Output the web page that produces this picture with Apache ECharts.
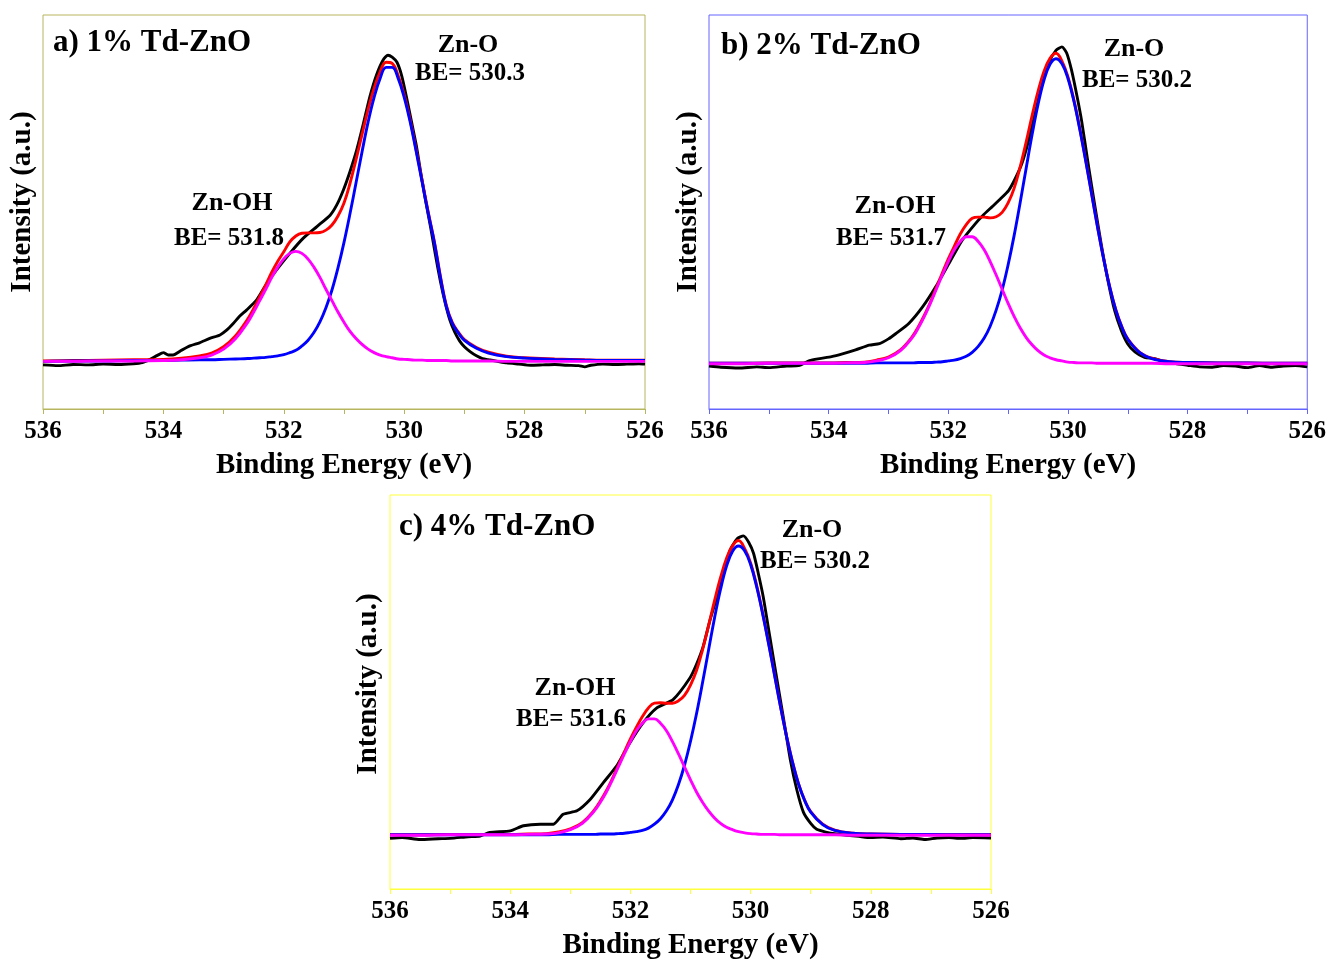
<!DOCTYPE html>
<html>
<head>
<meta charset="utf-8">
<title>O 1s XPS of Td-ZnO</title>
<script src="https://cdn.jsdelivr.net/npm/echarts@6.0.0/dist/echarts.min.js"></script>
<style>
  html, body { margin: 0; padding: 0; background: #fff; }
  #main { width: 1329px; height: 961px; }
</style>
</head>
<body>
<div id="main"></div>
<script>
// energy grid (eV) used by the fitted components
const fitX = [536, 535.5, 535, 534.5, 534, 533.7, 533.4, 533.2, 533.0, 532.8, 532.6, 532.5, 532.4, 532.3, 532.2,
  532.1, 532.0, 531.9, 531.8, 531.7, 531.6, 531.5, 531.4, 531.3, 531.2, 531.1, 531.0, 530.9, 530.8, 530.7,
  530.6, 530.5, 530.4, 530.3, 530.2, 530.1, 530.0, 529.9, 529.8, 529.7, 529.6, 529.5, 529.4, 529.3, 529.2,
  529.1, 529.0, 528.8, 528.6, 528.3, 528.0, 527.5, 527.0, 526.5, 526.0];

// a) 1% Td-ZnO
const blueA = [0.1,0.2,0.2,0.3,0.3,0.4,0.5,0.5,0.6,0.7,0.8,0.9,1.0,1.1,1.3,1.5,1.8,2.3,2.9,4.0,5.4,7.4,10.1,13.7,18.2,
  23.8,30.3,37.6,45.4,53.3,60.8,67.1,71.9,74.7,74.7,71.9,67.1,60.8,53.3,45.4,37.6,30.3,21.5,14.0,9.7,7.3,5.4,3.4,2.2,
  1.3,0.9,0.6,0.4,0.3,0.3];
const pinkA = [0.1,0.1,0.2,0.2,0.3,0.5,1.0,1.7,3.2,5.9,10.0,12.6,15.5,18.4,21.4,24.0,26.1,27.5,28.0,27.5,26.1,24.0,21.4,
  18.4,15.5,12.6,10.0,7.7,5.9,4.4,3.2,2.3,1.7,1.3,1.0,0.7,0.6,0.5,0.4,0.4,0.3,0.3,0.3,0.3,0.2,0.2,0.2,0.2,0.2,0.1,0.1,
  0.1,0.1,0.1,0.1];
const redA = [0.2,0.3,0.4,0.5,0.6,0.9,1.5,2.2,3.8,6.6,10.8,13.5,16.5,19.5,22.7,25.5,27.9,30.4,31.9,32.6,32.7,32.7,32.8,
  33.4,34.7,37.0,40.3,45.3,51.3,57.7,64.0,69.4,73.6,76.0,75.7,72.6,67.7,61.3,53.7,45.8,37.9,30.6,21.8,14.3,9.9,7.5,5.6,
  3.6,2.4,1.4,1.0,0.7,0.5,0.4,0.4];
const rawAX = [536.0,535.75,535.5,535.25,535.0,534.75,534.5,534.35,534.22,534.1,534.0,533.92,533.84,533.7,533.56,533.4,
  533.23,533.06,532.95,532.84,532.73,532.62,532.45,532.28,532.12,531.9,531.68,531.45,531.23,531.12,531.01,530.9,530.79,
  530.68,530.57,530.46,530.35,530.27,530.2,530.12,530.04,529.96,529.88,529.8,529.72,529.64,529.56,529.48,529.4,529.32,
  529.24,529.16,529.08,529.0,528.9,528.8,528.7,528.6,528.45,528.3,528.1,527.9,527.7,527.5,527.3,527.1,527.0,526.9,
  526.7,526.5,526.3,526.1,526.0];
const rawAY = [-0.8,-1.0,-0.7,-0.8,-0.6,-0.7,-0.5,-0.2,0.6,1.6,2.3,1.7,1.7,2.9,4.0,4.8,5.9,6.8,8.0,9.7,11.6,13.1,15.7,
  19.9,23.3,27.5,31.3,34.3,37.2,39.8,43.6,48.3,53.7,60.3,67.3,72.8,76.6,77.8,77.3,76.0,72.5,67.0,61.0,55.0,47.5,40.5,
  34.0,27.0,20.5,15.0,10.5,7.5,5.3,3.8,2.5,1.5,0.8,0.5,0.1,-0.3,-0.6,-0.9,-0.8,-0.7,-0.9,-1.0,-1.3,-0.9,-0.6,-0.7,
  -0.6,-0.5,-0.6];

// b) 2% Td-ZnO
const blueB = [0.1,0.1,0.1,0.1,0.1,0.1,0.1,0.2,0.2,0.2,0.2,0.3,0.3,0.3,0.4,0.5,0.7,0.9,1.3,1.9,2.9,4.4,6.5,9.5,13.6,
  18.7,25.1,32.5,40.8,49.5,58.1,65.8,72.0,76.0,77.4,76.1,72.4,66.6,59.3,51.2,42.7,34.2,26.3,19.3,13.6,9.3,6.2,2.8,1.3,
  0.5,0.3,0.2,0.2,0.1,0.1];
const pinkB = [0.0,0.0,0.1,0.1,0.1,0.2,0.3,0.7,1.5,3.3,6.7,9.1,12.0,15.3,18.9,22.5,25.9,28.9,31.0,32.2,32.2,31.0,28.9,
  25.9,22.5,18.9,15.3,12.0,9.1,6.7,4.8,3.3,2.2,1.5,1.0,0.7,0.4,0.3,0.2,0.2,0.2,0.1,0.1,0.1,0.1,0.1,0.1,0.1,0.1,0.0,0.0,
  0.0,0.0,0.0,0.0];
const redB = [0.1,0.1,0.2,0.2,0.2,0.3,0.4,0.9,1.7,3.5,6.9,9.4,12.3,15.6,19.3,23.0,26.6,29.8,32.9,35.3,36.9,37.2,37.2,
  37.0,37.3,38.4,40.8,44.5,49.9,56.2,62.9,69.1,74.2,77.5,78.8,76.8,72.8,66.9,59.5,51.4,42.9,34.3,26.4,19.4,13.7,9.4,6.3,
  2.9,1.4,0.5,0.3,0.2,0.2,0.1,0.1];
const rawBX = [536.0,535.8,535.5,535.2,535.0,534.7,534.5,534.32,534.15,533.95,533.77,533.55,533.32,533.15,533.0,532.88,
  532.66,532.43,532.21,531.99,531.77,531.55,531.41,531.27,531.13,530.99,530.88,530.77,530.66,530.55,530.44,530.33,530.2,
  530.1,530.02,529.94,529.85,529.77,529.66,529.55,529.44,529.33,529.22,529.11,529.0,528.88,528.72,528.55,528.4,528.2,
  528.0,527.8,527.6,527.4,527.2,527.0,526.8,526.6,526.4,526.2,526.0];
const rawBY = [-0.6,-0.9,-1.1,-0.8,-1.0,-0.6,-0.5,0.8,1.3,1.8,2.5,3.5,4.7,5.1,6.3,7.6,10.2,14.4,19.5,25.4,31.3,35.5,37.8,
  39.8,41.8,44.0,47.0,50.8,56.5,63.5,70.5,76.1,79.5,80.4,78.8,74.5,68.0,61.5,50.5,40.0,30.0,21.0,13.5,8.5,5.0,3.0,1.6,
  1.3,0.5,0.0,-0.4,-0.8,-0.9,-0.5,-0.6,-1.0,-0.5,-0.9,-0.6,-0.5,-0.8];

// c) 4% Td-ZnO
const blueC = [0.1,0.1,0.1,0.1,0.1,0.1,0.1,0.2,0.2,0.2,0.2,0.3,0.3,0.3,0.4,0.5,0.7,0.9,1.2,1.8,2.8,4.2,6.2,9.0,12.9,
  17.8,23.9,30.9,38.8,47.1,55.3,62.6,68.5,72.3,73.6,72.4,68.9,63.3,56.4,48.7,40.6,32.5,25.0,18.4,12.9,8.8,5.9,2.7,1.2,
  0.5,0.3,0.2,0.2,0.1,0.1];
const pinkC = [0.0,0.0,0.1,0.1,0.1,0.2,0.3,0.6,1.4,3.0,6.2,8.4,11.0,14.1,17.4,20.7,23.8,26.6,28.5,29.6,29.6,28.5,26.6,
  23.8,20.7,17.4,14.1,11.0,8.4,6.2,4.4,3.0,2.0,1.4,0.9,0.6,0.4,0.3,0.2,0.2,0.2,0.1,0.1,0.1,0.1,0.1,0.1,0.1,0.1,0.0,0.0,
  0.0,0.0,0.0,0.0];
const redC = [0.1,0.1,0.2,0.2,0.2,0.3,0.4,0.8,1.6,3.2,6.4,8.7,11.3,14.4,17.8,21.2,24.5,27.5,30.2,32.4,33.6,33.7,33.6,
  33.6,34.2,35.6,38.2,41.9,47.2,53.3,59.7,65.6,70.5,73.7,75.0,73.0,69.3,63.6,56.6,48.9,40.8,32.6,25.1,18.5,13.0,8.9,6.0,
  2.8,1.3,0.5,0.3,0.2,0.2,0.1,0.1];
const rawCX = [536.0,535.8,535.5,535.2,535.0,534.7,534.5,534.34,534.0,533.78,533.5,533.28,533.12,532.89,532.67,532.45,
  532.23,532.01,531.79,531.56,531.29,531.01,530.9,530.79,530.68,530.56,530.45,530.34,530.22,530.12,530.03,529.95,529.87,
  529.79,529.68,529.57,529.45,529.34,529.23,529.12,529.0,528.9,528.75,528.57,528.4,528.2,528.0,527.8,527.5,527.3,527.1,
  526.9,526.7,526.5,526.3,526.0];
const rawCY = [-0.8,-0.6,-1.1,-0.9,-0.8,-0.4,-0.2,0.7,1.1,2.4,2.8,2.8,5.3,6.2,9.1,13.4,17.6,23.5,28.6,32.4,34.5,40.0,
  43.5,48.0,54.5,60.7,67.0,72.6,75.5,76.2,74.5,71.7,66.5,60.7,50.5,40.4,29.5,19.3,11.5,5.8,3.0,1.5,0.8,0.3,0.0,-0.3,
  -0.6,-0.5,-0.9,-0.7,-1.1,-0.7,-0.6,-0.8,-0.6,-0.7];

const panelTitles = ['a) 1% Td-ZnO', 'b) 2% Td-ZnO', 'c) 4% Td-ZnO'];
const znOLabels = ['BE= 530.3', 'BE= 530.2', 'BE= 530.2'];
const znOHLabels = ['BE= 531.8', 'BE= 531.7', 'BE= 531.6'];

const font = '"Liberation Serif", "Times New Roman", serif';

const panels = [
  { grid: { left: 43, top: 15, width: 602, height: 394 }, ymin: -12, ymax: 88, frame: '#b6b65e',
    raw: [rawAX, rawAY], red: redA, blue: blueA, pink: pinkA,
    title: [53, 43], znO: [468, 45, 470, 73.5], znOH: [232, 203.5, 229, 238.5], yName: [23, 202] },
  { grid: { left: 709, top: 15, width: 601, height: 394 }, ymin: -11.5, ymax: 88.5, frame: '#6464ff',
    raw: [rawBX, rawBY], red: redB, blue: blueB, pink: pinkB,
    title: [721, 46], znO: [1134, 49.5, 1137, 80.5], znOH: [895, 206, 891, 239], yName: [689, 202] },
  { grid: { left: 390, top: 495, width: 601, height: 395 }, ymin: -13.7, ymax: 86.6, frame: '#ffff3c',
    raw: [rawCX, rawCY], red: redC, blue: blueC, pink: pinkC,
    title: [399, 527], znO: [812, 530.5, 815, 561.5], znOH: [575, 688.5, 571, 720], yName: [369, 684] }
];

function pairs(xs, ys) {
  return xs.map((x, i) => [x, ys[i]]);
}

function lineSeries(idx, data, color, smooth) {
  return {
    type: 'line', xAxisIndex: idx, yAxisIndex: idx, data: data,
    showSymbol: false, symbol: 'none', smooth: smooth,
    lineStyle: { color: color, width: 2.9 }, silent: true
  };
}

function txt(text, x, y, size, align, rot) {
  return {
    type: 'text', x: x, y: y, rotation: rot || 0, silent: true,
    style: {
      text: text, fill: '#000', font: 'bold ' + size + 'px ' + font,
      align: align, textAlign: align, verticalAlign: 'middle', textVerticalAlign: 'middle'
    }
  };
}

const grids = [], xAxes = [], yAxes = [], series = [], graphics = [];

panels.forEach((p, i) => {
  grids.push(Object.assign({ show: true, borderColor: p.frame, borderWidth: 1 }, p.grid));
  xAxes.push({
    gridIndex: i, type: 'value', min: 526, max: 536, interval: 1, inverse: true,
    axisLine: { show: true, onZero: false, lineStyle: { color: p.frame, width: 1 } },
    axisTick: { show: true, inside: false, length: 5, lineStyle: { color: p.frame, width: 1 } },
    axisLabel: {
      margin: 10, color: '#000', fontFamily: font, fontWeight: 'bold', fontSize: 25,
      showMinLabel: true, showMaxLabel: true,
      formatter: v => (Math.round(v) % 2 === 0 ? String(Math.round(v)) : '')
    },
    splitLine: { show: false },
    name: 'Binding Energy (eV)', nameLocation: 'middle', nameGap: 42,
    nameTextStyle: { color: '#000', fontFamily: font, fontWeight: 'bold', fontSize: 29 }
  });
  yAxes.push({ gridIndex: i, type: 'value', min: p.ymin, max: p.ymax, show: false });

  series.push(lineSeries(i, pairs(p.raw[0], p.raw[1]), '#000000', 0.2));
  series.push(lineSeries(i, pairs(fitX, p.red), '#ff0000', 0.4));
  series.push(lineSeries(i, pairs(fitX, p.blue), '#0000ff', 0.4));
  series.push(lineSeries(i, pairs(fitX, p.pink), '#ff00ff', 0.4));

  graphics.push(txt(panelTitles[i], p.title[0], p.title[1], 31, 'left'));
  graphics.push(txt('Zn-O', p.znO[0], p.znO[1], 26, 'center'));
  graphics.push(txt(znOLabels[i], p.znO[2], p.znO[3], 25, 'center'));
  graphics.push(txt('Zn-OH', p.znOH[0], p.znOH[1], 26, 'center'));
  graphics.push(txt(znOHLabels[i], p.znOH[2], p.znOH[3], 25, 'center'));
  graphics.push(txt('Intensity (a.u.)', p.yName[0], p.yName[1], 29, 'center', Math.PI / 2));
});

const chart = echarts.init(document.getElementById('main'));
chart.setOption({
  backgroundColor: '#ffffff',
  animation: false,
  grid: grids,
  xAxis: xAxes,
  yAxis: yAxes,
  series: series,
  graphic: graphics
});
</script>
</body>
</html>
